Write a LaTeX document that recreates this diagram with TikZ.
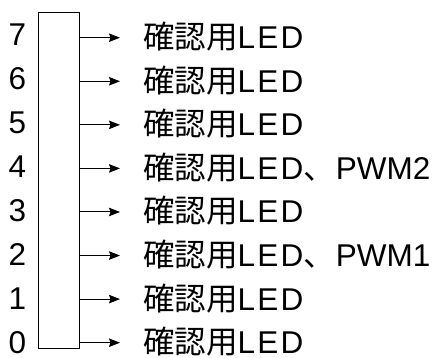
\documentclass[tikz,border=0pt]{standalone}
\usepackage{fontspec}
\setmainfont{Liberation Sans}
\newfontfamily\jp[Scale=1.0]{Noto Sans CJK JP}
\newfontfamily\ledf[LetterSpace=7]{Liberation Sans}
\usetikzlibrary{arrows.meta}
\tikzset{
  txt/.style={inner sep=0pt, font=\fontsize{31.5}{36}\selectfont},
  conn/.style={line width=1pt, -{Stealth[length=11pt,width=8.5pt,inset=1.5pt]}},
  busbox/.style={draw, line width=1pt, inner sep=0pt, minimum width=41pt, minimum height=335.5pt}
}
\newcommand{\kled}{{\jp 確認用}{\ledf LED}}
\begin{document}
\begin{tikzpicture}[x=1pt,y=-1pt]
\useasboundingbox (0,0) rectangle (440,358);
\node[busbox] (bus) at (59,180.5) {};
\foreach \k/\lab in {7/\kled, 6/\kled, 5/\kled, 4/{\kled{\jp 、}\kern1pt PWM2}, 3/\kled, 2/{\kled{\jp 、}\kern1pt PWM1}, 1/\kled, 0/\kled}{
  \pgfmathsetmacro{\ya}{37.7+43.57*(7-\k)}
  \pgfmathsetmacro{\yd}{45.5+44.0*(7-\k)}
  \coordinate (t\k) at (120,\ya);
  \node[txt, anchor=base west] (l\k) at (143,\ya+11.0) {\lab};
  \node[txt, anchor=base] (d\k) at (17.5,\yd) {\k};
  \draw[conn] (bus.east |- t\k) -- (t\k);
}
\end{tikzpicture}
\end{document}
